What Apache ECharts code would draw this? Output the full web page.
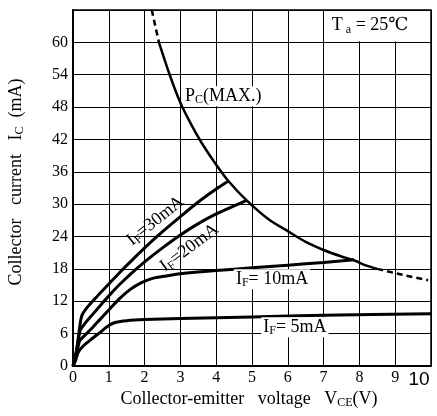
<!DOCTYPE html>
<html>
<head>
<meta charset="utf-8">
<script src="https://cdn.jsdelivr.net/npm/echarts@6/dist/echarts.min.js"></script>
<style>html,body{margin:0;padding:0;background:#fff}#c{width:437px;height:416px}</style>
</head>
<body>
<div id="c"></div>
<script>
// ---- data ----
const xTicks = [0,1,2,3,4,5,6,7,8,9,10];
const yTicks = [0,6,12,18,24,30,36,42,48,54,60];
const curveIF5  = [[0,0],[0.07,1],[0.15,2.6],[0.3,3.8],[0.5,4.9],[0.75,6.2],[1.0,7.5],[1.2,8.1],[1.5,8.4],[2,8.6],[3,8.8],[5,9.1],[7,9.4],[10,9.7]];
const curveIF10 = [[0,0],[0.08,1.5],[0.18,4.6],[0.3,5.5],[0.5,6.8],[0.75,8.6],[1.0,10.4],[1.3,12.5],[1.6,14.2],[1.9,15.4],[2.2,16.2],[2.6,16.7],[3,17.1],[4,17.7],[5,18.2],[6,18.7],[7,19.2],[7.85,19.7]];
const curveIF20 = [[0,0],[0.08,2],[0.2,6.6],[0.3,7.6],[0.5,9.2],[0.8,11.5],[1.0,13],[1.3,15.1],[1.6,17],[2,19.3],[2.5,21.9],[3,24.3],[3.5,26.4],[4,28.2],[4.5,29.7],[4.85,30.7]];
const curveIF30 = [[0,0],[0.1,3],[0.2,7.8],[0.25,9.4],[0.4,10.9],[0.6,12.4],[0.8,13.8],[1.0,15.2],[1.3,17.3],[1.6,19.3],[2,21.9],[2.5,24.9],[3,27.7],[3.5,30.4],[4,32.8],[4.34,34.3]];
const pcMaxDashTop = [[2.2,66],[2.4,60]];
const pcMaxSolid   = [[2.4,60],[2.7,54],[3,48.8],[3.3,44.8],[3.6,41.3],[4,37.3],[4.34,34.3],[4.85,30.7],[5.5,27],[6,25],[6.5,23],[7,21.5],[7.5,20.3],[7.85,19.6],[8.2,18.6],[8.5,18]];
const pcMaxDashEnd = [[8.5,18],[9.2,16.9],[9.92,15.9]];

const SERIF = '"Liberation Serif","DejaVu Serif",serif';
const chart = echarts.init(document.getElementById('c'), null, {renderer:'canvas'});

function curve(data, w, dashed){
  return {type:'line', data, showSymbol:false, smooth:0.25, silent:true,
    lineStyle:{color:'#000', width:w, type: dashed ? [6,4] : 'solid'}};
}

chart.setOption({
  animation:false,
  backgroundColor:'#fff',
  grid:{left:73, right:6, top:10, bottom:50, show:true, borderColor:'#000', borderWidth:1.5},
  xAxis:{type:'value', min:0, max:10, interval:1,
    axisLine:{show:true, onZero:false, lineStyle:{color:'#000', width:2}},
    axisTick:{show:false},
    splitLine:{show:true, lineStyle:{color:'#000', width:1}},
    axisLabel:{color:'#000', fontFamily:SERIF, fontSize:16, margin:4,
      formatter:v => v===10 ? '{big|10}' : String(v),
      rich:{big:{fontFamily:'"Liberation Sans",Arial,sans-serif', fontSize:19, color:'#000', padding:[0,24,2,0]}}}
  },
  yAxis:{type:'value', min:0, max:66, interval:6,
    axisLine:{show:true, onZero:false, lineStyle:{color:'#000', width:2}},
    axisTick:{show:false},
    splitLine:{show:true, lineStyle:{color:'#000', width:1}},
    axisLabel:{color:'#000', fontFamily:SERIF, fontSize:16, margin:5,
      formatter:v => yTicks.indexOf(v) >= 0 ? String(v) : ''}
  },
  series:[
    curve(curveIF5,3), curve(curveIF10,3), curve(curveIF20,3), curve(curveIF30,3),
    curve(pcMaxDashTop,2.5,true), curve(pcMaxSolid,2.5), curve(pcMaxDashEnd,2.5,true)
  ]
});

// annotation anchors in data coordinates
const notes = [
  {at:[2.3,26.9], rot:39, parts:['I','F','=30mA']},
  {at:[3.25,21.9], rot:37, parts:['I','F','=20mA']},
  {at:[5.56,16.1], rot:0,  parts:['I','F','= 10mA'], bg:true},
  {at:[6.2,7.2],   rot:0,  parts:['I','F','= 5mA'], bg:true},
  {at:[4.2,50.0],  rot:0,  parts:['P','C','(MAX.)'], bg:true},
  {at:[8.3,63.1],  rot:0,  parts:['T',' a',' = 25℃']}
];
const rich = {m:{fontFamily:SERIF, fontSize:18, color:'#000'}, s:{fontFamily:SERIF, fontSize:12, color:'#000', padding:[8,0,0,0]}};
const g = [];
// white box behind the temperature note
const b0 = chart.convertToPixel({gridIndex:0}, [7.05,66]);
const b1 = chart.convertToPixel({gridIndex:0}, [10,60]);
g.push({type:'rect', shape:{x:b0[0], y:b0[1]+1, width:b1[0]-b0[0]-1, height:b1[1]-b0[1]-2}, style:{fill:'#fff'}, z:50});
notes.forEach(n => {
  const p = chart.convertToPixel({gridIndex:0}, n.at);
  g.push({type:'text', x:p[0], y:p[1], rotation:n.rot*Math.PI/180, z:100,
    style:{text:'{m|'+n.parts[0]+'}{s|'+n.parts[1]+'}{m|'+n.parts[2]+'}', rich,
      align:'center', verticalAlign:'middle',
      backgroundColor: n.bg ? '#fff' : null, padding: n.bg ? [0,2] : 0}});
});
// axis titles
const tr = {t:{fontFamily:SERIF, fontSize:18, color:'#000'}, s:{fontFamily:SERIF, fontSize:12, color:'#000', padding:[8,0,0,0]}};
g.push({type:'text', x:16, y:182, rotation:Math.PI/2, z:100,
  style:{text:'{t|Collector   current   I}{s|C}{t|  (mA)}', rich:tr, align:'center', verticalAlign:'middle'}});
g.push({type:'text', x:249, y:399, z:100,
  style:{text:'{t|Collector-emitter   voltage   V}{s|CE}{t|(V)}', rich:tr, align:'center', verticalAlign:'middle'}});
chart.setOption({graphic:g});
</script>
</body>
</html>
